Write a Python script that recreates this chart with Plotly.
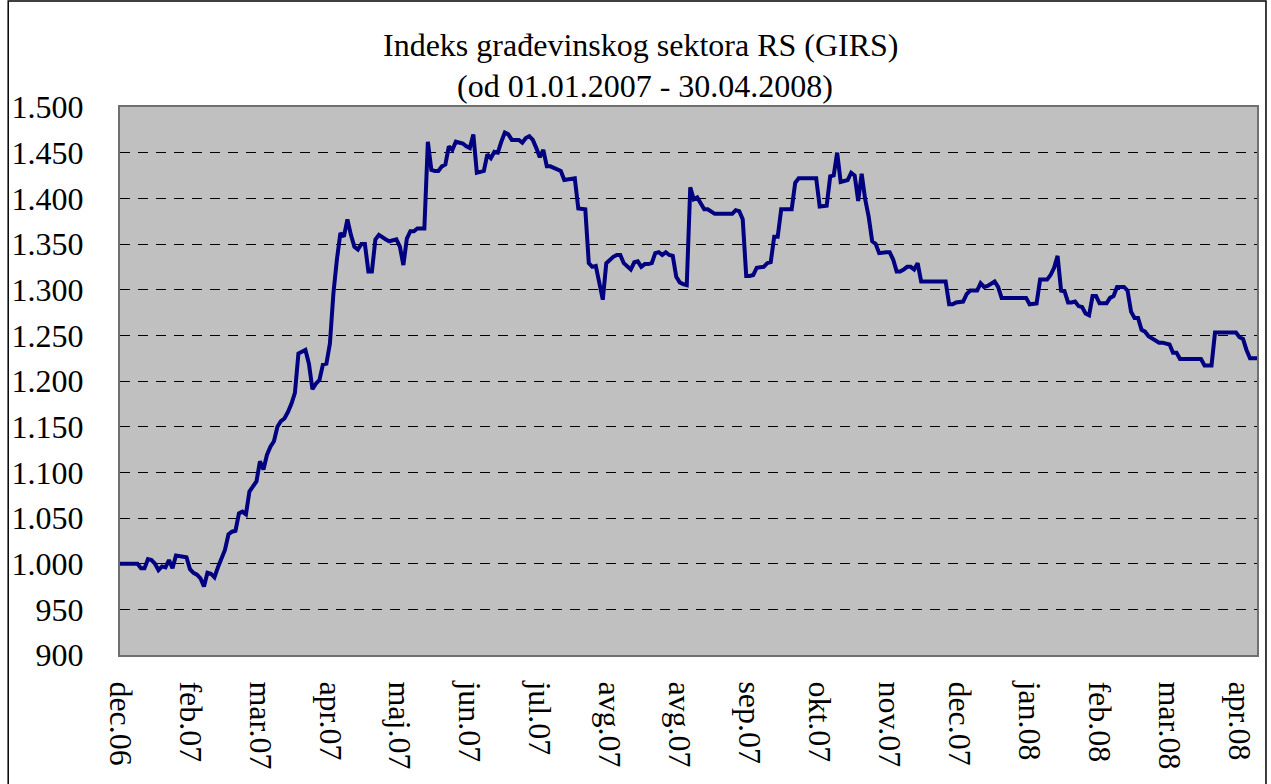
import plotly.graph_objects as go

# Trading-day values of the GIRS index
girs_values = [
    1000, 1000, 1000, 1000, 1000, 1000, 995, 995, 1005, 1004,
    1000, 993, 997, 996, 1004, 995, 1009, 1008, 1008, 1007,
    994, 990, 988, 984, 975, 990, 989, 985, 996, 1006,
    1015, 1032, 1035, 1036, 1055, 1057, 1054, 1079, 1085, 1090,
    1112, 1103, 1119, 1128, 1134, 1150, 1156, 1159, 1166, 1175,
    1187, 1230, 1232, 1234, 1219, 1191, 1197, 1201, 1218, 1219,
    1241, 1296, 1333, 1362, 1358, 1377, 1360, 1347, 1344, 1350,
    1350, 1320, 1320, 1355, 1360, 1357, 1355, 1353, 1354, 1355,
    1347, 1327, 1356, 1364, 1364, 1367, 1367, 1367, 1462,
    1431, 1430, 1430, 1435, 1437, 1457, 1453, 1462, 1461, 1460,
    1457, 1455, 1470, 1428, 1429, 1430, 1448, 1444, 1451, 1450,
    1462, 1472, 1470, 1464, 1464, 1464, 1461, 1466, 1468, 1464,
    1455, 1445, 1453, 1435, 1435, 1433, 1432, 1430, 1420, 1421,
    1421, 1422, 1389, 1388, 1388, 1329, 1325, 1326, 1305, 1289,
    1329, 1333, 1336, 1338, 1338, 1329, 1325, 1322, 1330, 1331,
    1325, 1328, 1328, 1329, 1340, 1341, 1338, 1341, 1338, 1337,
    1314, 1308, 1306, 1305, 1412, 1399, 1401, 1395, 1388, 1388,
    1385, 1383, 1383, 1383, 1383, 1383, 1383, 1387, 1386,
    1377, 1315, 1315, 1316, 1324, 1324, 1325, 1329, 1330, 1358,
    1358, 1388, 1388, 1388, 1388, 1417, 1422, 1422, 1422, 1422,
    1422, 1422, 1391, 1392, 1392, 1424, 1425, 1450, 1418, 1419,
    1420, 1428, 1425, 1397, 1427, 1399, 1380, 1353, 1350, 1340,
    1341, 1341, 1341, 1333, 1320, 1320, 1322, 1325, 1325, 1322,
    1329, 1309, 1309, 1309, 1309, 1309, 1309, 1309, 1309, 1284,
    1284, 1286, 1287, 1287, 1295, 1299, 1299, 1299, 1307, 1303,
    1304, 1306, 1309, 1303, 1291, 1291, 1291, 1291, 1291,
    1291, 1291, 1291, 1284, 1284, 1285, 1311, 1311, 1311, 1316,
    1324, 1337, 1299, 1298, 1286, 1286, 1287, 1282, 1281, 1274,
    1272, 1293, 1293, 1285, 1285, 1285, 1291, 1293, 1303, 1303,
    1303, 1299, 1276, 1269, 1269, 1256, 1254, 1249, 1247, 1245,
    1242, 1242, 1241, 1240, 1231, 1231, 1224, 1224, 1224, 1224,
    1224, 1224, 1224, 1217, 1217, 1217, 1253, 1253, 1253, 1253,
    1253, 1253, 1253, 1248, 1246, 1234, 1225, 1225, 1225,
]
day_index = list(range(len(girs_values)))

# Category labels shown every 20 trading days
tick_labels = [
    "dec.06", "feb.07", "mar.07", "apr.07", "maj.07", "jun.07", "jul.07",
    "avg.07", "avg.07", "sep.07", "okt.07", "nov.07", "dec.07", "jan.08",
    "feb.08", "mar.08", "apr.08",
]
tick_positions = list(range(0, len(girs_values), 20))[:len(tick_labels)]

title_line1 = "Indeks građevinskog sektora RS (GIRS)"
title_line2 = "(od 01.01.2007 - 30.04.2008)"

FONT = "Liberation Serif, Times New Roman, serif"

fig = go.Figure()
fig.add_trace(go.Scatter(
    x=day_index, y=girs_values, mode="lines",
    line=dict(color="#000080", width=4),
    hoverinfo="skip", showlegend=False,
))

W, H = 1271, 784
ml, mr, mt, mb = 120, 12, 107, 129
pw, ph = W - ml - mr, H - mt - mb

def px_x(p):
    return (p - ml) / pw

def px_y(p):
    return (H - mb - p) / ph

fig.update_layout(
    width=W, height=H,
    margin=dict(l=ml, r=mr, t=mt, b=mb, pad=0),
    paper_bgcolor="white",
    plot_bgcolor="#C0C0C0",
    separators=",.",
    font=dict(family=FONT, color="black", size=32),
    xaxis=dict(
        range=[0, len(girs_values) - 1],
        tickmode="array", tickvals=tick_positions, ticktext=tick_labels,
        tickangle=90, ticks="", showgrid=False, zeroline=False,
        showline=True, linecolor="#707070", linewidth=2, mirror=True,
        tickfont=dict(family=FONT, size=32, color="black"),
        ticklabelstandoff=18,
    ),
    yaxis=dict(
        range=[900, 1500], dtick=50, tick0=900, tickformat=",d",
        ticks="", showgrid=True, gridcolor="black", gridwidth=1,
        griddash="10px,8px", zeroline=False,
        showline=True, linecolor="#707070", linewidth=2, mirror=True,
        tickfont=dict(family=FONT, size=32, color="black"),
        ticklabelstandoff=28,
    ),
    annotations=[
        dict(text=title_line1, xref="paper", yref="paper",
             x=px_x(641), y=px_y(45), xanchor="center", yanchor="middle",
             showarrow=False, font=dict(family=FONT, size=32, color="black")),
        dict(text=title_line2, xref="paper", yref="paper",
             x=px_x(646), y=px_y(86), xanchor="center", yanchor="middle",
             showarrow=False, font=dict(family=FONT, size=32, color="black")),
    ],
    shapes=[dict(
        type="rect", xref="paper", yref="paper",
        x0=px_x(8), x1=px_x(1268), y0=px_y(800), y1=px_y(1),
        line=dict(color="black", width=1.5), fillcolor="rgba(0,0,0,0)",
        layer="above",
    )],
)

fig.write_html(
    "out.html",
    config={"displayModeBar": False},
    post_script="document.body.style.margin='0';document.body.style.overflow='hidden';",
)
